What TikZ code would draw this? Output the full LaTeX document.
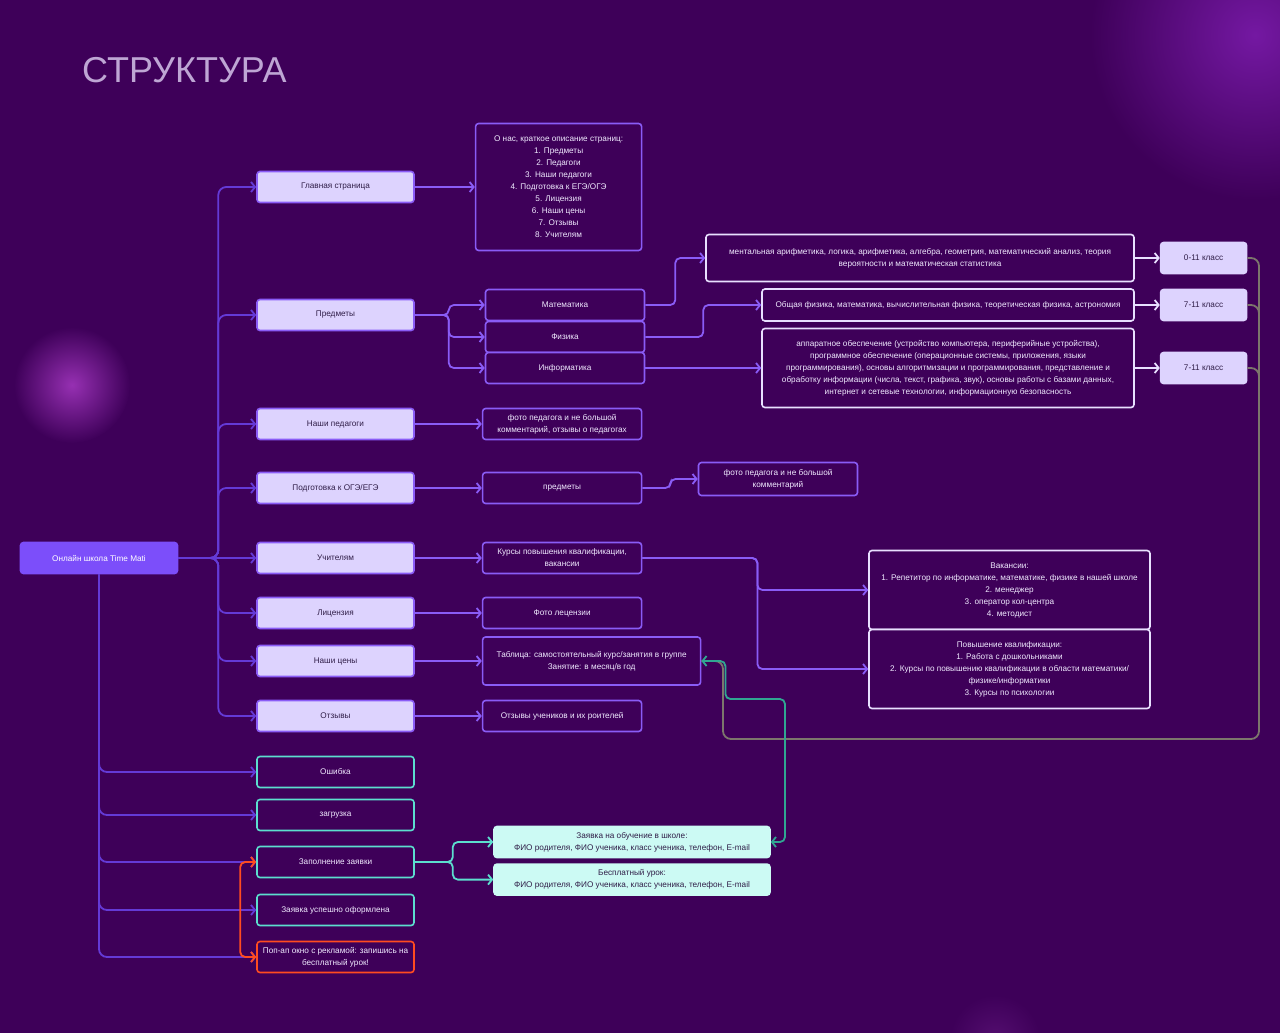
\documentclass[tikz,border=0pt]{standalone}
\usepackage{fontspec}
\setmainfont{Liberation Sans}
\usetikzlibrary{arrows.meta, positioning}

\definecolor{bgpurple}{RGB}{62,0,89}
\definecolor{glowtop}{RGB}{116,24,162}
\definecolor{glowleft}{RGB}{150,48,178}
\definecolor{glowlow}{RGB}{84,14,112}
\definecolor{titleink}{RGB}{190,166,212}
\definecolor{lavender}{RGB}{221,211,254}
\definecolor{boxline}{RGB}{138,92,246}
\definecolor{mainfill}{RGB}{124,78,250}
\definecolor{paleline}{RGB}{232,224,255}
\definecolor{inkdark}{RGB}{48,30,72}
\definecolor{inklight}{RGB}{240,234,255}
\definecolor{trunkline}{RGB}{100,58,214}
\definecolor{stateline}{RGB}{92,222,206}
\definecolor{mint}{RGB}{204,250,244}
\definecolor{linkteal}{RGB}{48,166,146}
\definecolor{linkgray}{RGB}{124,118,108}
\definecolor{popred}{RGB}{255,76,32}

\begin{document}
\begin{tikzpicture}[
    x=1pt, y=-1pt,
    font=\fontsize{8.2}{12}\selectfont,
    base/.style={draw, rectangle, rounded corners=3pt, line width=1.6pt, align=center, inner sep=2pt},
    page/.style={base, draw=boxline, fill=lavender, text=inkdark, minimum width=157pt, minimum height=31pt},
    info/.style={base, draw=boxline, fill=bgpurple, text=inklight, minimum width=159pt, minimum height=31pt},
    detail/.style={base, draw=paleline, fill=bgpurple, text=inklight},
    grade/.style={base, draw=lavender, fill=lavender, text=inkdark, minimum width=86pt, minimum height=31pt},
    state/.style={base, draw=stateline, fill=bgpurple, text=inklight, minimum width=157pt, minimum height=31pt},
    form/.style={base, draw=mint, fill=mint, text=inkdark, minimum width=276pt, minimum height=31pt},
    arrow/.style={-{Straight Barb[length=4pt,width=10pt]}, line width=1.8pt, draw=boxline, rounded corners=5pt},
    both/.style={{Straight Barb[length=4pt,width=10pt]}-{Straight Barb[length=4pt,width=10pt]}},
    trunk/.style={arrow, draw=trunkline, rounded corners=8pt},
    palearrow/.style={arrow, draw=paleline},
    mintarrow/.style={arrow, draw=stateline},
    back/.style={line width=1.8pt, rounded corners=8pt}
]

% background and glows
\useasboundingbox (0,0) rectangle (1280,1033);
\fill[bgpurple] (0,0) rectangle (1280,1033);
\begin{scope}
    \clip (0,0) rectangle (1280,1033);
    \shade[inner color=glowtop, outer color=bgpurple] (1255,35) circle (165pt);
    \shade[inner color=glowleft, outer color=bgpurple] (72,385) circle (58pt);
    \shade[inner color=glowlow, outer color=bgpurple] (995,1040) circle (45pt);
\end{scope}

\node[anchor=base west, inner sep=0, text=titleink, font=\fontsize{36}{36}\selectfont] (title) at (82,82) {СТРУКТУРА};

% left column
\node[base, draw=mainfill, fill=mainfill, text=white, minimum width=157pt, minimum height=31pt] (main) at (99,558) {Онлайн школа Time Mati};

\node[page] (glav) at (335.5,187) {Главная страница};
\node[page] (pred) at (335.5,315) {Предметы};
\node[page] (ped) at (335.5,424) {Наши педагоги};
\node[page] (podg) at (335.5,488) {Подготовка к ОГЭ/ЕГЭ};
\node[page] (uch) at (335.5,558) {Учителям};
\node[page] (lic) at (335.5,613) {Лицензия};
\node[page] (cen) at (335.5,661) {Наши цены};
\node[page] (otz) at (335.5,716) {Отзывы};

\node[state] (osh) at (335.5,772) {Ошибка};
\node[state] (zagr) at (335.5,815) {загрузка};
\node[state] (zap) at (335.5,862) {Заполнение заявки};
\node[state] (usp) at (335.5,910) {Заявка успешно оформлена};
\node[state, draw=popred] (pop) at (335.5,957) {Поп-ап окно с рекламой: запишись на\\бесплатный урок!};

% pages
\node[info, minimum width=166pt, minimum height=127pt, right=60pt of glav] (about) {О нас, краткое описание страниц:\\1. Предметы\\2. Педагоги\\3. Наши педагоги\\4. Подготовка к ЕГЭ/ОГЭ\\5. Лицензия\\6. Наши цены\\7. Отзывы\\8. Учителям};
\node[info, right=67pt of ped] (pedinfo) {фото педагога и не большой\\комментарий, отзывы о педагогах};
\node[info, right=67pt of podg] (podsub) {предметы};
\node[info, right=67pt of uch] (kursy) {Курсы повышения квалификации,\\вакансии};
\node[info, right=67pt of lic] (licinfo) {Фото лецензии};
\node[info, minimum width=218pt, minimum height=48pt, right=67pt of cen] (price) {Таблица: самостоятельный курс/занятия в группе\\Занятие: в месяц/в год};
\node[info, right=67pt of otz] (revs) {Отзывы учеников и их роителей};

\node[info] (mat) at (565,305) {Математика};
\node[info] (fiz) at (565,337) {Физика};
\node[info] (inf) at (565,368) {Информатика};
\node[info, minimum height=33pt] (foto2) at (778,479) {фото педагога и не большой\\комментарий};

% subjects
\node[detail, minimum width=428pt, minimum height=47pt] (mathd) at (920,258) {ментальная арифметика, логика, арифметика, алгебра, геометрия, математический анализ, теория\\вероятности и математическая статистика};
\node[detail, minimum width=372pt, minimum height=32pt] (fizd) at (948,305) {Общая физика, математика, вычислительная физика, теоретическая физика, астрономия};
\node[detail, minimum width=372pt, minimum height=79pt] (infd) at (948,368) {аппаратное обеспечение (устройство компьютера, периферийные устройства),\\программное обеспечение (операционные системы, приложения, языки\\программирования), основы алгоритмизации и программирования, представление и\\обработку информации (числа, текст, графика, звук), основы работы с базами данных,\\интернет и сетевые технологии, информационную безопасность};

\node[grade, right=25pt of mathd] (cls1) {0-11 класс};
\node[grade, right=25pt of fizd] (cls2) {7-11 класс};
\node[grade, right=25pt of infd] (cls3) {7-11 класс};

\node[detail, minimum width=281pt, minimum height=79pt] (vak) at (1009.5,590) {Вакансии:\\1. Репетитор по информатике, математике, физике в нашей школе\\2. менеджер\\3. оператор кол-центра\\4. методист};
\node[detail, minimum width=281pt, minimum height=79pt] (pov) at (1009.5,669) {Повышение квалификации:\\1. Работа с дошкольниками\\2. Курсы по повышению квалификации в области математики/\\физике/информатики\\3. Курсы по психологии};

\node[form] (zreq) at (632,842) {Заявка на обучение в школе:\\ФИО родителя, ФИО ученика, класс ученика, телефон, E-mail};
\node[form, below=5pt of zreq] (free) {Бесплатный урок:\\ФИО родителя, ФИО ученика, класс ученика, телефон, E-mail};

\coordinate (gbend) at (1259,739);
\coordinate (gleft) at (723,739);
\coordinate (gjoin) at (1259,700);
\coordinate (tbend) at (785,699);

% connectors
\foreach \to in {glav, pred, ped, podg, lic, cen, otz}
    \draw[trunk] (main.east) -- ++(40,0) |- (\to.west);
\draw[trunk] (main.east) -- (uch.west);
\foreach \to in {osh, zagr, zap, usp, pop}
    \draw[trunk] (main.south) |- (\to.west);

\foreach \from/\to in {glav/about, ped/pedinfo, podg/podsub, uch/kursy, lic/licinfo, cen/price, otz/revs}
    \draw[arrow] (\from) -- (\to);

\foreach \to in {mat, fiz, inf}
    \draw[arrow] (pred.east) -- ++(34,0) |- (\to.west);
\draw[arrow] (mat.east) -- ++(30,0) |- (mathd.west);
\draw[arrow] (fiz.east) -- ++(58,0) |- (fizd.west);
\draw[arrow] (inf) -- (infd);
\draw[arrow] (podsub.east) -- ++(28,0) |- (foto2.west);
\foreach \to in {vak, pov}
    \draw[arrow] (kursy.east) -- ++(115,0) |- (\to.west);

\foreach \from/\to in {mathd/cls1, fizd/cls2, infd/cls3}
    \draw[palearrow] (\from) -- (\to);

\foreach \to in {zreq, free}
    \draw[mintarrow] (zap.east) -- ++(38,0) |- (\to.west);
\draw[mintarrow, draw=popred, both] (zap.west) -- ++(-16,0) |- (pop.west);

\draw[back, draw=linkgray] (cls1.east) -| (gbend) -- (gleft) |- (price.east);
\draw[back, draw=linkgray] (cls2.east) -| (gjoin);
\draw[back, draw=linkgray] (cls3.east) -| (gjoin);
\draw[mintarrow, draw=linkteal, both] (price.east) -- ++(24,0) |- (tbend) |- (zreq.east);

\end{tikzpicture}
\end{document}
